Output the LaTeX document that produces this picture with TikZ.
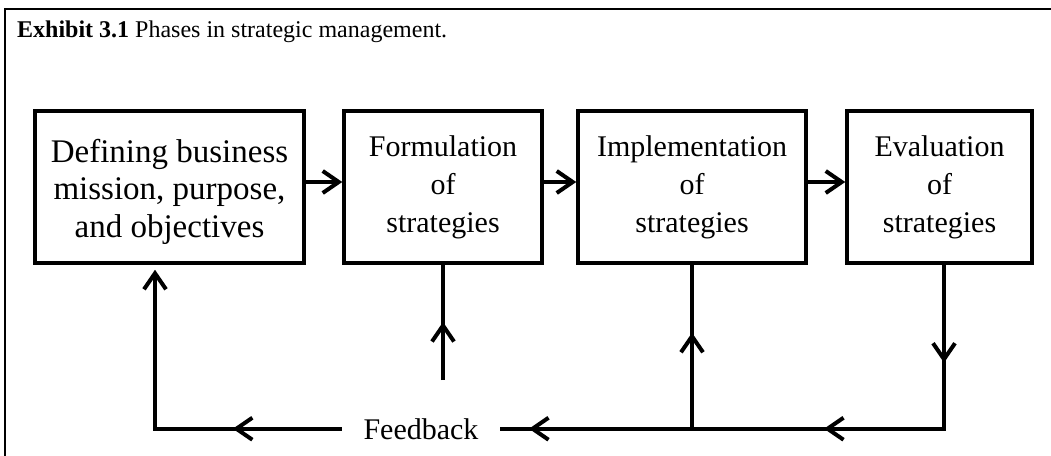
\documentclass[tikz,border=0pt]{standalone}
\usepackage{fontspec}
\setmainfont{Liberation Serif}
\usetikzlibrary{arrows.meta,decorations.markings}
\tikzset{
  barb/.tip={Straight Barb[length=16pt,width=22pt]},
  box/.style={draw, line width=3.5pt, inner sep=0pt, align=center, minimum height=152pt},
  boxfont/.style={font=\fontsize{30}{38}\selectfont},
  conn/.style={line width=4pt},
  frame/.style={line width=2.5pt},
  titlefont/.style={font=\fontsize{24}{29}\selectfont},
}
\begin{document}
\begin{tikzpicture}[x=1pt,y=-1pt]
\useasboundingbox (0,0) rectangle (1051,455);
% frame (only top and left visible)
\draw[frame] (5,470) -- (5,9) -- (1070,9);
% title
\node[anchor=base west, inner sep=0pt, titlefont] (title) at (17,37)
  {\textbf{Exhibit 3.1} Phases in strategic management.};
% boxes
\node[box, minimum width=269pt, font=\fontsize{33}{37.5}\selectfont] (b1) at (169.5,187)
  {\rule{0pt}{33pt}Defining business\\mission, purpose,\\and objectives};
\node[box, boxfont, minimum width=198pt] (b2) at (443,187) {Formulation\\of\\strategies};
\node[box, boxfont, minimum width=228pt] (b3) at (692,187) {Implementation\\of\\strategies};
\node[box, boxfont, minimum width=185pt] (b4) at (939.5,187) {Evaluation\\of\\strategies};
% feedback label
\node[anchor=base, inner ysep=0pt, inner xsep=21.5pt, font=\fontsize{30}{36}\selectfont] (fb) at (421,439) {Feedback};
% forward arrows
\draw[conn, -barb] ([yshift=5pt]b1.east) -- ([yshift=5pt]b2.west);
\draw[conn, -barb] ([yshift=5pt]b2.east) -- ([yshift=5pt]b3.west);
\draw[conn, -barb] ([yshift=5pt]b3.east) -- ([yshift=5pt]b4.west);
% feedback loop from evaluation
\draw[conn, postaction={decorate, decoration={markings,
    mark=at position 98pt with {\arrow{barb}},
    mark=at position 284pt with {\arrow{barb}},
    mark=at position 579pt with {\arrow{barb}}}}]
  ([xshift=4.5pt]b4.south) |- (fb.east);
% up to implementation
\coordinate (j3) at (b3.south |- fb.east);
\draw[conn, postaction={decorate, decoration={markings,
    mark=at position 96pt with {\arrow{barb}}}}]
  (j3) -- (b3.south);
% up to formulation
\coordinate (s2) at (443,380);
\draw[conn, postaction={decorate, decoration={markings,
    mark=at position 58pt with {\arrow{barb}}}}]
  (s2) -- (b2.south);
% back to defining
\draw[conn, -barb, shorten >=5pt, postaction={decorate, decoration={markings,
    mark=at position 109pt with {\arrow{barb}}}}]
  (fb.west) -| ([xshift=-14.5pt]b1.south);
\end{tikzpicture}
\end{document}
